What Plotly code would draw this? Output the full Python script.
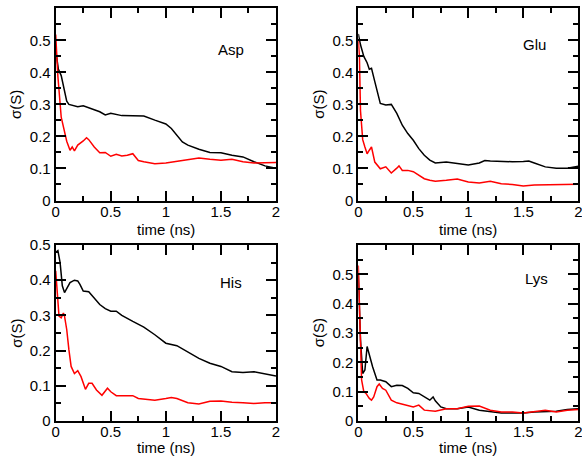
import plotly.graph_objects as go

# ---- data ----
asp_black_t = [0, 0.024, 0.05, 0.1, 0.12, 0.2, 0.25, 0.3, 0.4, 0.45, 0.5, 0.6, 0.7, 0.8, 0.9, 1.0, 1.05, 1.1, 1.15, 1.2, 1.3, 1.4, 1.5, 1.6, 1.7, 1.8, 1.9, 2.0]
asp_black_v = [0.47, 0.41, 0.39, 0.31, 0.30, 0.293, 0.296, 0.29, 0.277, 0.267, 0.272, 0.265, 0.264, 0.264, 0.251, 0.239, 0.225, 0.204, 0.183, 0.173, 0.16, 0.15, 0.149, 0.141, 0.136, 0.121, 0.108, 0.101]
asp_red_t = [0, 0.02, 0.05, 0.08, 0.1, 0.13, 0.15, 0.17, 0.2, 0.25, 0.28, 0.3, 0.35, 0.4, 0.45, 0.5, 0.55, 0.6, 0.65, 0.7, 0.75, 0.8, 0.9, 1.0, 1.1, 1.2, 1.3, 1.4, 1.5, 1.6, 1.7, 1.8, 1.9, 2.0]
asp_red_v = [0.518, 0.387, 0.26, 0.21, 0.185, 0.157, 0.167, 0.155, 0.173, 0.186, 0.196, 0.19, 0.167, 0.149, 0.15, 0.138, 0.144, 0.139, 0.141, 0.146, 0.125, 0.121, 0.115, 0.117, 0.123, 0.128, 0.133, 0.129, 0.126, 0.129, 0.121, 0.117, 0.117, 0.119]

glu_black_t = [0, 0.02, 0.05, 0.08, 0.1, 0.12, 0.15, 0.2, 0.25, 0.3, 0.35, 0.4, 0.45, 0.5, 0.55, 0.6, 0.65, 0.7, 0.8, 0.9, 1.0, 1.1, 1.15, 1.2, 1.3, 1.4, 1.5, 1.55, 1.6, 1.7, 1.8, 1.9, 2.0]
glu_black_v = [0.52, 0.486, 0.45, 0.43, 0.41, 0.413, 0.371, 0.303, 0.298, 0.30, 0.272, 0.235, 0.209, 0.188, 0.162, 0.141, 0.126, 0.117, 0.12, 0.115, 0.111, 0.117, 0.125, 0.123, 0.121, 0.121, 0.122, 0.123, 0.117, 0.105, 0.101, 0.101, 0.107]
glu_red_t = [0, 0.01, 0.02, 0.04, 0.06, 0.08, 0.1, 0.12, 0.15, 0.18, 0.2, 0.25, 0.3, 0.35, 0.37, 0.4, 0.45, 0.5, 0.55, 0.6, 0.65, 0.7, 0.8, 0.9, 1.0, 1.1, 1.2, 1.3, 1.4, 1.5, 1.6, 1.7, 1.8, 1.9, 2.0]
glu_red_v = [0.5, 0.45, 0.28, 0.19, 0.167, 0.146, 0.157, 0.167, 0.12, 0.105, 0.099, 0.105, 0.086, 0.101, 0.108, 0.094, 0.094, 0.09, 0.078, 0.068, 0.063, 0.06, 0.063, 0.067, 0.058, 0.055, 0.06, 0.052, 0.05, 0.045, 0.048, 0.049, 0.049, 0.051, 0.051]

his_black_t = [0, 0.02, 0.04, 0.06, 0.08, 0.1, 0.13, 0.17, 0.2, 0.22, 0.25, 0.3, 0.35, 0.4, 0.45, 0.5, 0.55, 0.6, 0.7, 0.8, 0.9, 1.0, 1.1, 1.2, 1.3, 1.4, 1.5, 1.6, 1.7, 1.8, 1.9, 2.0]
his_black_v = [0.479, 0.484, 0.45, 0.384, 0.365, 0.376, 0.393, 0.40, 0.398, 0.388, 0.369, 0.367, 0.35, 0.331, 0.319, 0.312, 0.312, 0.30, 0.283, 0.267, 0.245, 0.221, 0.214, 0.195, 0.178, 0.164, 0.155, 0.14, 0.138, 0.14, 0.135, 0.128]
his_red_t = [0, 0.02, 0.03, 0.05, 0.07, 0.08, 0.1, 0.12, 0.14, 0.17, 0.2, 0.23, 0.27, 0.3, 0.33, 0.37, 0.42, 0.47, 0.5, 0.55, 0.6, 0.7, 0.75, 0.8, 0.9, 1.0, 1.05, 1.1, 1.2, 1.3, 1.4, 1.5, 1.6, 1.7, 1.8, 1.9, 2.0]
his_red_v = [0.427, 0.355, 0.298, 0.293, 0.307, 0.298, 0.26, 0.202, 0.155, 0.135, 0.143, 0.126, 0.09, 0.107, 0.107, 0.088, 0.073, 0.093, 0.083, 0.072, 0.072, 0.072, 0.064, 0.062, 0.059, 0.064, 0.067, 0.064, 0.052, 0.048, 0.056, 0.057, 0.053, 0.052, 0.05, 0.052, 0.052]

lys_black_t = [0, 0.02, 0.04, 0.06, 0.08, 0.1, 0.13, 0.17, 0.2, 0.25, 0.3, 0.35, 0.4, 0.45, 0.5, 0.55, 0.6, 0.65, 0.68, 0.7, 0.75, 0.8, 0.9, 1.0, 1.1, 1.2, 1.3, 1.4, 1.5, 1.6, 1.7, 1.8, 1.9, 2.0]
lys_black_v = [0.5, 0.277, 0.162, 0.174, 0.254, 0.225, 0.185, 0.14, 0.14, 0.134, 0.117, 0.122, 0.121, 0.111, 0.096, 0.094, 0.082, 0.071, 0.082, 0.069, 0.048, 0.042, 0.042, 0.048, 0.037, 0.031, 0.027, 0.027, 0.027, 0.031, 0.031, 0.033, 0.039, 0.042]
lys_red_t = [0, 0.01, 0.02, 0.03, 0.05, 0.07, 0.1, 0.12, 0.14, 0.17, 0.19, 0.22, 0.25, 0.3, 0.35, 0.4, 0.45, 0.5, 0.55, 0.6, 0.7, 0.8, 0.9, 1.0, 1.1, 1.2, 1.3, 1.4, 1.5, 1.6, 1.7, 1.8, 1.9, 2.0]
lys_red_v = [0.53, 0.37, 0.22, 0.14, 0.10, 0.094, 0.077, 0.071, 0.082, 0.117, 0.126, 0.111, 0.105, 0.071, 0.062, 0.057, 0.054, 0.048, 0.054, 0.037, 0.033, 0.042, 0.042, 0.05, 0.051, 0.037, 0.031, 0.031, 0.027, 0.033, 0.037, 0.031, 0.037, 0.039]

panel_labels = ["Asp", "Glu", "His", "Lys"]
x_title = "time (ns)"
y_title = "σ(S)"
x_tick_vals = [0, 0.5, 1, 1.5, 2]
x_tick_text = ["0", "0.5", "1", "1.5", "2"]
y_tick_vals = [0, 0.1, 0.2, 0.3, 0.4, 0.5]
y_tick_text = ["0", "0.1", "0.2", "0.3", "0.4", "0.5"]
y_max = [0.6, 0.6, 0.5, 0.6]

series = [
    (asp_black_t, asp_black_v, asp_red_t, asp_red_v),
    (glu_black_t, glu_black_v, glu_red_t, glu_red_v),
    (his_black_t, his_black_v, his_red_t, his_red_v),
    (lys_black_t, lys_black_v, lys_red_t, lys_red_v),
]

W, H = 582, 457
# plot-area pixel boxes (left, right, top, bottom)
boxes = [
    (55.7, 276.0, 8.3, 200.5),
    (358.3, 578.3, 8.3, 200.5),
    (55.7, 276.0, 245.0, 421.0),
    (358.3, 578.3, 245.0, 421.0),
]
# pixel centres of x-title rows and y-title column offsets
x_title_y = [230, 230, 447.5, 447.5]
y_title_dx = 40  # distance from plot left edge to y-title centre
label_pos = [(1.59, 0.47), (1.60, 0.486), (1.59, 0.393), (1.62, 0.486)]

FONT = "Liberation Sans, Arial, sans-serif"
FS = 15
fig = go.Figure()
layout = dict(
    width=W, height=H,
    margin=dict(l=0, r=0, t=0, b=0, autoexpand=False),
    paper_bgcolor="white", plot_bgcolor="white",
    showlegend=False,
    font=dict(family=FONT, size=FS, color="black"),
    annotations=[],
)

for i, (bt, bv, rt, rv) in enumerate(series):
    n = i + 1
    xa = "x" if n == 1 else f"x{n}"
    ya = "y" if n == 1 else f"y{n}"
    fig.add_trace(go.Scatter(x=bt, y=bv, mode="lines", line=dict(color="black", width=1.5),
                             xaxis=xa, yaxis=ya))
    fig.add_trace(go.Scatter(x=rt, y=rv, mode="lines", line=dict(color="#ff0000", width=1.5),
                             xaxis=xa, yaxis=ya))
    l, r, t, b = boxes[i]
    common = dict(showline=True, linecolor="black", linewidth=2, mirror="allticks",
                  ticks="inside", ticklen=10, tickwidth=1.5, tickcolor="black",
                  showgrid=False, zeroline=False, automargin=False,
                  ticklabeloverflow="allow",
                  tickfont=dict(family=FONT, size=FS, color="black"))
    layout["xaxis" if n == 1 else f"xaxis{n}"] = dict(
        common, domain=[l / W, r / W], anchor=ya, range=[0, 2],
        tickvals=x_tick_vals, ticktext=x_tick_text, ticklabelstandoff=-4,
        minor=dict(dtick=0.25, tick0=0, ticks="inside", ticklen=5, tickcolor="black", tickwidth=1.5),
    )
    layout["yaxis" if n == 1 else f"yaxis{n}"] = dict(
        common, domain=[1 - b / H, 1 - t / H], anchor=xa, range=[0, y_max[i]],
        tickvals=y_tick_vals, ticktext=y_tick_text,
        minor=dict(dtick=0.05, tick0=0, ticks="inside", ticklen=5, tickcolor="black", tickwidth=1.5),
    )
    lx, ly = label_pos[i]
    layout["annotations"].append(dict(text=panel_labels[i], x=lx, y=ly, xref=xa, yref=ya,
                                      showarrow=False, font=dict(family=FONT, size=FS, color="black")))
    # axis titles as annotations for precise placement
    layout["annotations"].append(dict(text=x_title, x=(l + r) / 2 / W, y=1 - x_title_y[i] / H,
                                      xref="paper", yref="paper", xanchor="center", yanchor="middle",
                                      borderpad=0,
                                      showarrow=False, font=dict(family=FONT, size=FS, color="black")))
    layout["annotations"].append(dict(text=y_title, x=(l - y_title_dx) / W, y=1 - (t + b) / 2 / H,
                                      xref="paper", yref="paper", xanchor="center", yanchor="middle",
                                      textangle=-90,
                                      showarrow=False, font=dict(family=FONT, size=FS, color="black")))

fig.update_layout(**layout)
fig.write_html("out.html")
